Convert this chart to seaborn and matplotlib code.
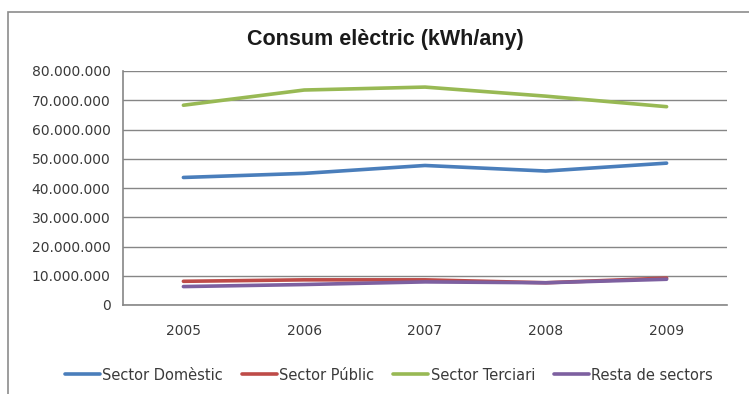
import matplotlib
matplotlib.use("Agg")
import matplotlib.pyplot as plt
import matplotlib.ticker as mticker
from matplotlib.patches import Rectangle
import numpy as np
import pandas as pd
import seaborn as sns

# Dades llegides del gràfic
anys = ["2005", "2006", "2007", "2008", "2009"]
sector_domestic = [43.6e6, 45.0e6, 47.7e6, 45.8e6, 48.5e6]
sector_public = [8.1e6, 8.6e6, 8.6e6, 7.6e6, 9.2e6]
sector_terciari = [68.3e6, 73.5e6, 74.5e6, 71.4e6, 67.8e6]
resta_sectors = [6.3e6, 7.0e6, 7.9e6, 7.6e6, 8.8e6]

series = {
    "Sector Domèstic": sector_domestic,
    "Sector Públic": sector_public,
    "Sector Terciari": sector_terciari,
    "Resta de sectors": resta_sectors,
}
colors = ["#4A7EBB", "#BE4B48", "#98B954", "#7D60A0"]

df = pd.DataFrame(
    [(i, any_, nom, v) for nom, vals in series.items() for i, (any_, v) in enumerate(zip(anys, vals))],
    columns=["pos", "any", "sector", "kwh"],
)

sns.set_style("white")
plt.rcParams["font.family"] = ["DejaVu Sans"]

fig = plt.figure(figsize=(7.49, 3.94), dpi=100)
ax = fig.add_axes([123 / 749, 1 - 305 / 394, (727 - 123) / 749, (305 - 71) / 394])

sns.lineplot(
    data=df, x="pos", y="kwh", hue="sector", palette=colors,
    linewidth=2.6, ax=ax, legend=True,
)

ax.set_xlim(-0.5, len(anys) - 0.5)
ax.set_ylim(0, 80e6)
ax.set_yticks(np.arange(0, 80e6 + 1, 10e6))
ax.yaxis.set_major_formatter(
    mticker.FuncFormatter(lambda v, p: f"{int(v):,}".replace(",", "."))
)
ax.set_xticks(range(len(anys)))
ax.set_xticklabels(anys)
ax.set_xticks(np.arange(-0.5, len(anys), 1.0), minor=True)
ax.tick_params(axis="x", which="major", length=0, pad=14, labelsize=10, labelcolor="#3a3a3a")
ax.tick_params(axis="x", which="minor", length=5, width=1, color="#868686", direction="out")
ax.tick_params(axis="y", length=5, width=1, color="#868686", direction="out",
               labelsize=10, labelcolor="#3a3a3a", pad=4)
ax.yaxis.grid(True, color="#868686", linewidth=1)
ax.set_axisbelow(True)
for s in ["top", "right"]:
    ax.spines[s].set_visible(False)
for s in ["left", "bottom"]:
    ax.spines[s].set_color("#868686")
    ax.spines[s].set_linewidth(1.2)
ax.set_xlabel("")
ax.set_ylabel("")

handles, labels = ax.get_legend_handles_labels()
leg = ax.legend(
    handles, labels, loc="center", bbox_to_anchor=(389 / 749, 1 - 375 / 394),
    bbox_transform=fig.transFigure, ncol=4, frameon=False, fontsize=10.5,
    handlelength=2.4, handletextpad=0.15, columnspacing=1.3,
)
for t in leg.get_texts():
    t.set_color("#3a3a3a")

fig.text(385 / 749, 1 - 40 / 394, "Consum elèctric (kWh/any)",
         ha="center", va="center", fontsize=15.5, fontweight="bold",
         color="#1a1a1a", family="Liberation Sans")

# Marc exterior del gràfic
fig.patches.append(Rectangle((8 / 749, -0.2), 1.2, 1.2 - 12 / 394,
                             transform=fig.transFigure, fill=False,
                             edgecolor="#8c8c8c", linewidth=1.2))

fig.savefig("out.png", dpi=100)
